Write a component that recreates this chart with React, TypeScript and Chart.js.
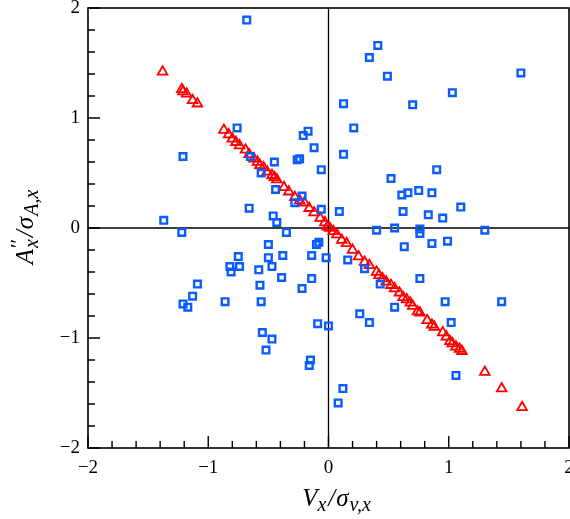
import React, { useEffect, useRef } from "react";
import { Chart, registerables } from "chart.js";

Chart.register(...registerables);

// Blue squares (x, y)
const blueX = [-0.68, 0.41, 0.34, 1.6, 0.49, 1.03, 0.125, 0.7, -0.76, 0.21, -0.17, -0.21, -0.12, 0.125, -1.21, -0.65, -0.24, -0.26, -0.45, -0.06, 0.9, -0.56, 0.52, -0.44, 0.75, 0.66, 0.61, 0.86, -0.22, -0.28, 1.1, -0.66, -0.06, 0.09, 0.62, 0.83, -0.46, 0.95, -1.37, -0.43, -1.22, -0.35, 0.4, 0.55, 0.76, 0.76, 1.3, -0.08, -0.1, -0.5, 0.99, 0.86, 0.63, -0.75, -0.5, -0.38, -0.14, -0.02, 0.16, -0.74, -0.82, -0.81, -0.47, 0.3, -0.58, -0.39, -0.14, 0.76, 0.43, -1.09, -0.57, -0.22, -1.13, -0.86, -0.56, 0.97, 1.44, -1.21, -1.17, 0.55, 0.26, 0.34, 1.02, -0.09, 0.0, -0.55, -0.47, -0.52, -0.15, -0.16, 1.06, 0.12, 0.08];
const blueY = [1.89, 1.66, 1.55, 1.41, 1.38, 1.23, 1.13, 1.12, 0.91, 0.91, 0.88, 0.84, 0.73, 0.67, 0.65, 0.65, 0.63, 0.62, 0.6, 0.53, 0.53, 0.5, 0.45, 0.35, 0.34, 0.32, 0.3, 0.32, 0.29, 0.23, 0.19, 0.18, 0.17, 0.15, 0.15, 0.12, 0.11, 0.09, 0.07, 0.05, -0.04, -0.04, -0.02, 0.0, -0.01, -0.05, -0.02, -0.13, -0.15, -0.15, -0.12, -0.14, -0.17, -0.26, -0.27, -0.25, -0.25, -0.27, -0.29, -0.35, -0.35, -0.4, -0.35, -0.37, -0.38, -0.45, -0.46, -0.46, -0.51, -0.51, -0.52, -0.55, -0.62, -0.67, -0.67, -0.67, -0.67, -0.69, -0.72, -0.72, -0.78, -0.86, -0.86, -0.87, -0.89, -0.95, -1.01, -1.11, -1.2, -1.25, -1.34, -1.46, -1.59];

// Red triangles (x, y)
const redX = [-1.38, -1.22, -1.21, -1.18, -1.13, -1.09, -0.87, -0.83, -0.8, -0.77, -0.74, -0.69, -0.66, -0.62, -0.59, -0.57, -0.54, -0.51, -0.47, -0.45, -0.43, -0.37, -0.33, -0.28, -0.24, -0.2, -0.16, -0.12, -0.07, -0.03, -0.01, 0.01, 0.04, 0.07, 0.11, 0.15, 0.2, 0.25, 0.3, 0.34, 0.4, 0.42, 0.45, 0.48, 0.52, 0.55, 0.59, 0.62, 0.65, 0.68, 0.7, 0.74, 0.76, 0.82, 0.86, 0.88, 0.95, 0.98, 1.01, 1.03, 1.06, 1.09, 1.11, 1.3, 1.44, 1.61];
const redY = [1.42, 1.26, 1.24, 1.22, 1.16, 1.13, 0.89, 0.85, 0.81, 0.78, 0.75, 0.71, 0.67, 0.63, 0.6, 0.57, 0.55, 0.51, 0.48, 0.46, 0.44, 0.37, 0.33, 0.28, 0.25, 0.23, 0.18, 0.14, 0.09, 0.05, 0.01, 0.0, -0.03, -0.06, -0.11, -0.14, -0.2, -0.26, -0.31, -0.34, -0.4, -0.43, -0.46, -0.49, -0.52, -0.55, -0.59, -0.63, -0.65, -0.68, -0.71, -0.76, -0.77, -0.84, -0.88, -0.9, -0.95, -0.99, -1.03, -1.05, -1.08, -1.1, -1.12, -1.31, -1.46, -1.63];

const axisMin = -2;
const axisMax = 2;
const majorStep = 1;
const minorStep = 0.2;

const SERIF = "'Liberation Serif', 'DejaVu Serif', serif";

const fmt = (v: number) => (v < 0 ? "\u2212" + Math.abs(v) : String(v));

type Part = { t: string; size: number; dy: number; italic: boolean; stack?: boolean; gap?: number };

function drawParts(ctx: CanvasRenderingContext2D, parts: Part[], cx: number) {
  const widths: number[] = [];
  let total = 0;
  parts.forEach((p, i) => {
    ctx.font = `${p.italic ? "italic " : ""}${p.size}px ${SERIF}`;
    const w = ctx.measureText(p.t).width;
    widths.push(w);
    const g = p.gap || 0;
    if (!p.stack) total += w + g;
    else total += Math.max(0, w - widths[i - 1]);
  });
  let x = cx - total / 2;
  let prevX = x;
  parts.forEach((p, i) => {
    ctx.font = `${p.italic ? "italic " : ""}${p.size}px ${SERIF}`;
    const g = p.gap || 0;
    if (p.stack) {
      ctx.fillText(p.t, prevX, p.dy);
      x = Math.max(x, prevX + widths[i]);
    } else {
      x += g;
      ctx.fillText(p.t, x, p.dy);
      prevX = x;
      x += widths[i];
    }
  });
}

const framePlugin = {
  id: "frame",
  beforeDatasetsDraw(chart: any) {
    const { ctx, chartArea } = chart;
    const xs = chart.scales.x;
    const ys = chart.scales.y;
    const { left, right, top, bottom } = chartArea;
    ctx.save();
    ctx.strokeStyle = "#000";
    ctx.lineWidth = 1.3;
    const x0 = xs.getPixelForValue(0);
    const y0 = ys.getPixelForValue(0);
    ctx.beginPath();
    ctx.moveTo(x0, top);
    ctx.lineTo(x0, bottom);
    ctx.moveTo(left, y0);
    ctx.lineTo(right, y0);
    ctx.stroke();
    ctx.lineWidth = 1.6;
    ctx.strokeRect(left, top, right - left, bottom - top);
    ctx.lineWidth = 1.4;
    ctx.beginPath();
    const n = Math.round((axisMax - axisMin) / minorStep);
    for (let i = 0; i <= n; i++) {
      const v = axisMin + i * minorStep;
      const isMajor = Math.abs(v / majorStep - Math.round(v / majorStep)) < 1e-6;
      const len = isMajor ? 12 : 7;
      const px = xs.getPixelForValue(v);
      ctx.moveTo(px, bottom);
      ctx.lineTo(px, bottom - len);
      const py = ys.getPixelForValue(v);
      ctx.moveTo(left, py);
      ctx.lineTo(left + len, py);
    }
    ctx.stroke();
    ctx.restore();
  },
  afterDraw(chart: any) {
    const { ctx, chartArea } = chart;
    ctx.save();
    ctx.fillStyle = "#000";
    ctx.textBaseline = "alphabetic";
    ctx.textAlign = "left";
    const cx = (chartArea.left + chartArea.right) / 2 + 8;
    ctx.save();
    ctx.translate(0, 506);
    drawParts(
      ctx,
      [
        { t: "V", size: 25, dy: 0, italic: true },
        { t: "x", size: 20, dy: 5, italic: true },
        { t: "/", size: 25, dy: 0, italic: true, gap: 2 },
        { t: "\u03c3", size: 25, dy: 0, italic: true, gap: 1 },
        { t: "v,x", size: 20, dy: 5, italic: true, gap: 1 },
      ],
      cx
    );
    ctx.restore();
    ctx.save();
    ctx.translate(33, (chartArea.top + chartArea.bottom) / 2 - 1);
    ctx.rotate(-Math.PI / 2);
    drawParts(
      ctx,
      [
        { t: "A", size: 25, dy: 0, italic: true },
        { t: "\u2032\u2032", size: 20, dy: -8, italic: false, gap: 1 },
        { t: "x", size: 20, dy: 5, italic: true, stack: true },
        { t: "/", size: 25, dy: 0, italic: true, gap: 2 },
        { t: "\u03c3", size: 25, dy: 0, italic: true, gap: 1 },
        { t: "A,x", size: 20, dy: 5, italic: true, gap: 1 },
      ],
      0
    );
    ctx.restore();
    ctx.restore();
  },
};

const zeroPad = () => ({ left: 0, right: 0, top: 0, bottom: 0 });

export default function App() {
  const ref = useRef<HTMLCanvasElement | null>(null);
  useEffect(() => {
    if (!ref.current) return;
    const blue = blueX.map((x, i) => ({ x, y: blueY[i] }));
    const red = redX.map((x, i) => ({ x, y: redY[i] }));
    const tickFont = { family: SERIF, size: 19 };
    const chart = new Chart(ref.current, {
      type: "scatter",
      data: {
        datasets: [
          {
            label: "squares",
            data: blue,
            pointStyle: "rect",
            pointRadius: 4.7,
            pointHoverRadius: 4.7,
            borderWidth: 2.4,
            borderColor: "#0a5cff",
            backgroundColor: "rgba(255,255,255,0)",
          },
          {
            label: "triangles",
            data: red,
            pointStyle: "triangle",
            pointRadius: 5.6,
            pointHoverRadius: 5.6,
            borderWidth: 1.8,
            borderColor: "#ff0000",
            backgroundColor: "rgba(255,255,255,0)",
          },
        ],
      },
      options: {
        animation: false,
        responsive: false,
        maintainAspectRatio: false,
        events: [],
        layout: { autoPadding: false, padding: { top: 8, right: 1, left: 0, bottom: 0 } },
        plugins: { legend: { display: false }, tooltip: { enabled: false } },
        scales: {
          x: {
            type: "linear",
            min: axisMin,
            max: axisMax,
            grid: { display: false, drawTicks: false },
            border: { display: false },
            ticks: {
              stepSize: majorStep,
              font: tickFont,
              color: "#000",
              padding: 9,
              maxRotation: 0,
              autoSkip: false,
              callback: (v: any) => fmt(Number(v)),
            },
            afterFit: (s: any) => {
              s.height = 71;
              s.paddingLeft = 0;
              s.paddingRight = 0;
              s.getPadding = zeroPad;
            },
          },
          y: {
            type: "linear",
            min: axisMin,
            max: axisMax,
            grid: { display: false, drawTicks: false },
            border: { display: false },
            ticks: {
              stepSize: majorStep,
              font: tickFont,
              color: "#000",
              padding: 8,
              autoSkip: false,
              callback: (v: any) => fmt(Number(v)),
            },
            afterFit: (s: any) => {
              s.width = 88;
              s.paddingTop = 0;
              s.paddingBottom = 0;
              s.getPadding = zeroPad;
            },
          },
        },
      },
      plugins: [framePlugin],
    } as any);
    return () => chart.destroy();
  }, []);
  return (
    <div style={{ position: "absolute", left: 0, top: 0, width: 570, height: 519, background: "#fff", overflow: "hidden" }}>
      <canvas ref={ref} width={570} height={519} style={{ display: "block", width: 570, height: 519 }} />
    </div>
  );
}
